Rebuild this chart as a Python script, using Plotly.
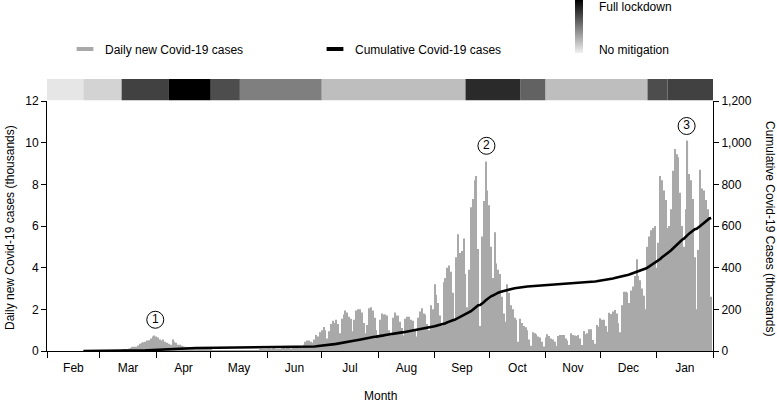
import numpy as np
import pandas as pd
import plotly.graph_objects as go

# ---------------- data (thousands of cases per day) ----------------
feb_2020 = [0, 0, 0, 0, 0, 0.001, 0.001, 0.001, 0.002]  # from Feb 21
mar_2020 = [0.001, 0.002, 0.003, 0.002, 0.005, 0.004, 0.005, 0.009, 0.011,
            0.019, 0.019, 0.025, 0.035, 0.05, 0.07, 0.1, 0.12, 0.15, 0.2, 0.2,
            0.2, 0.27, 0.35, 0.4, 0.42, 0.45, 0.5, 0.52, 0.6, 0.7, 0.75]
apr_2020 = [0.7, 0.65, 0.55, 0.5, 0.55, 0.45, 0.4, 0.35, 0.3, 0.55,
            0.45, 0.4, 0.3, 0.3, 0.25, 0.22, 0.2, 0.18, 0.17, 0.15,
            0.15, 0.12, 0.12, 0.1, 0.08, 0.08, 0.07, 0.06, 0.06, 0.05]
may_2020 = [0.05, 0.04, 0.03, 0.04, 0.03, 0.02, 0.03, 0.03, 0.02, 0.02,
            0.02, 0.02, 0.02, 0.01, 0.02, 0.02, 0.02, 0.02, 0.02, 0.02,
            0.02, 0.01, 0.01, 0.02, 0.02, 0.02, 0.03, 0.06, 0.08, 0.09, 0.1]
jun_2020 = [0.1, 0.12, 0.1, 0.12, 0.13, 0.1, 0.08, 0.1, 0.13, 0.15,
            0.12, 0.15, 0.17, 0.12, 0.15, 0.18, 0.2, 0.25, 0.22, 0.15,
            0.3, 0.45, 0.5, 0.5, 0.45, 0.4, 0.55, 0.77, 0.7, 0.9]
jul_2020 = [1.0, 1.15, 1.0, 0.6, 0.95, 1.3, 1.45, 1.35, 1.5, 1.3,
            0.85, 1.55, 1.75, 1.95, 1.85, 1.65, 1.55, 0.95, 1.5, 1.95,
            2.0, 2.0, 1.85, 1.35, 0.85, 1.25, 2.05, 2.1, 1.95, 1.6, 1.0]
aug_2020 = [0.7, 1.5, 1.8, 1.75, 1.75, 1.7, 1.0, 0.75, 1.6, 1.85,
            1.7, 1.7, 1.4, 1.1, 0.75, 1.55, 1.65, 1.65, 1.5, 1.45,
            1.0, 0.7, 1.6, 1.9, 2.05, 1.8, 1.75, 1.3, 1.0, 2.2, 2.0]
sep_2020 = [3.2, 2.7, 2.3, 1.7, 1.2, 3.3, 3.5, 4.0, 4.1, 3.8,
            2.8, 1.5, 4.5, 5.6, 4.7, 4.8, 5.4, 3.7, 2.1, 3.9,
            6.9, 7.3, 8.2, 8.4, 4.9, 1.2, 5.5, 7.2, 9.1, 7.7]
oct_2020 = [7.0, 5.0, 3.5, 5.7, 4.2, 3.9, 3.7, 2.6, 1.8, 1.4,
            3.2, 2.8, 2.2, 2.0, 1.6, 1.5, 0.45, 1.55, 1.35, 1.2,
            1.14, 1.0, 0.55, 0.25, 0.9, 0.85, 0.8, 0.7, 0.65, 0.45, 0.22]
nov_2020 = [0.65, 0.8, 0.72, 0.6, 0.55, 0.45, 0.24, 0.72, 0.77, 0.77,
            0.77, 0.6, 0.5, 0.29, 0.85, 0.77, 0.75, 0.72, 0.77, 0.6,
            0.29, 0.96, 0.8, 0.85, 1.04, 1.04, 0.53, 0.35, 1.25, 1.17]
dec_2020 = [1.57, 1.5, 1.5, 1.2, 0.93, 1.84, 1.78, 1.9, 1.97, 1.8,
            1.33, 0.9, 2.2, 2.85, 2.85, 2.8, 2.3, 2.9, 3.1, 3.6,
            4.4, 3.6, 3.4, 3.0, 2.65, 2.0, 5.0, 5.5, 5.8, 5.9, 6.0]
jan_2021 = [4.0, 5.2, 8.4, 8.2, 7.7, 7.25, 5.9, 6.0, 6.8, 8.65,
            9.7, 9.45, 9.3, 7.6, 6.0, 5.0, 6.8, 10.1, 8.5, 8.2,
            7.3, 4.5, 2.0, 4.85, 8.7, 7.8, 7.7, 7.25, 6.8, 6.3, 2.6]

first_day = "2020-02-21"
last_day = "2021-01-31"

# mitigation level periods (0 = no mitigation, 1 = full lockdown)
mit_start = ["2020-02-01", "2020-02-21", "2020-03-13", "2020-04-08", "2020-05-01",
             "2020-05-17", "2020-07-01", "2020-09-18", "2020-10-18", "2020-11-01",
             "2020-12-27", "2021-01-07"]
mit_end_last = "2021-02-01"
mit_level = [0.04, 0.12, 0.73, 1.0, 0.68, 0.47, 0.21, 0.825, 0.59, 0.21, 0.68, 0.73]

peak_labels = ["1", "2", "3"]
peak_dates = ["2020-03-31", "2020-09-29", "2021-01-17"]
peak_label_y = [1.5, 9.85, 10.8]

# ---------------- build ----------------
daily = (feb_2020 + mar_2020 + apr_2020 + may_2020 + jun_2020 + jul_2020 +
         aug_2020 + sep_2020 + oct_2020 + nov_2020 + dec_2020 + jan_2021)
dates = pd.date_range(first_day, last_day, freq="D")
assert len(dates) == len(daily), (len(dates), len(daily))
cumulative = np.cumsum(daily)

starts = pd.to_datetime(mit_start)
ends = pd.to_datetime(mit_start[1:] + [mit_end_last])
mids = starts + (ends - starts) / 2
widths_ms = [(e - s).total_seconds() * 1000 for s, e in zip(starts, ends)]

FONT = "Liberation Sans, Arial, sans-serif"
BAR_GREY = "#a9a9a9"

fig = go.Figure()

fig.add_trace(go.Bar(
    x=dates, y=daily, marker=dict(color=BAR_GREY, line=dict(width=0)),
    showlegend=False, hoverinfo="x+y"))

fig.add_trace(go.Scatter(
    x=dates, y=cumulative, yaxis="y2", mode="lines",
    line=dict(color="black", width=2.6), showlegend=False))

# legend-only entries
fig.add_trace(go.Scatter(
    x=[None], y=[None], mode="markers", name="Daily new Covid-19 cases",
    marker=dict(symbol="line-ew", size=12, line=dict(width=4, color=BAR_GREY))))
fig.add_trace(go.Scatter(
    x=[None], y=[None], mode="markers", name="Cumulative Covid-19 cases",
    marker=dict(symbol="line-ew", size=12, line=dict(width=4, color="black"))))

# mitigation strip
plot_h = 272
fig.add_trace(go.Bar(
    x=mids, y=[1] * len(mids), width=widths_ms, yaxis="y3",
    marker=dict(color=mit_level, cmin=0, cmax=1,
                colorscale=[[0, "#f0f0f0"], [1, "#000000"]],
                line=dict(width=0), showscale=True,
                colorbar=dict(
                    x=(575 - 47) / 666, xanchor="left", xpad=0,
                    y=1 + 79 / plot_h, yanchor="top", ypad=0,
                    len=53, lenmode="pixels", thickness=8, thicknessmode="pixels",
                    outlinewidth=0, tickvals=[0.06, 0.87],
                    ticktext=["No mitigation", "Full lockdown"],
                    ticklabeloverflow="allow",
                    ticks="outside", ticklen=14, tickcolor="rgba(0,0,0,0)",
                    tickfont=dict(family=FONT, size=12, color="black"))),
    showlegend=False, hoverinfo="skip"))

# circled peak numbers
fig.add_trace(go.Scatter(
    x=pd.to_datetime(peak_dates) + pd.Timedelta(hours=12), y=peak_label_y,
    mode="markers+text", text=peak_labels, textposition="middle center",
    textfont=dict(family=FONT, size=12, color="black"),
    marker=dict(symbol="circle-open", size=17, color="black", line=dict(width=1)),
    showlegend=False, hoverinfo="skip"))

main_top = 250 / plot_h
fig.update_layout(
    width=777, height=404,
    margin=dict(l=47, r=64, t=79, b=53, autoexpand=False),
    plot_bgcolor="white", paper_bgcolor="white",
    font=dict(family=FONT, size=12, color="black"),
    barmode="overlay", bargap=0.4,
    legend=dict(orientation="h", x=(65 - 47) / 666, xanchor="left",
                y=(351 - 49) / plot_h, yanchor="middle",
                entrywidth=205, entrywidthmode="pixels",
                font=dict(family=FONT, size=12), bgcolor="rgba(0,0,0,0)"),
    xaxis=dict(type="date", range=["2020-02-01", "2021-02-01"],
               tick0="2020-02-01", dtick="M1", tickformat="%b",
               ticklabelmode="period", ticks="outside", ticklen=6,
               tickcolor="black", showline=True, linecolor="black",
               showgrid=False, zeroline=False),
    yaxis=dict(domain=[0, main_top], range=[0, 12], dtick=2, ticks="outside",
               ticklen=5, tickcolor="black", showline=True, linecolor="black",
               showgrid=False, zeroline=False),
    yaxis2=dict(overlaying="y", side="right", range=[0, 1200], dtick=200,
                tickformat=",", ticks="outside", ticklen=5, tickcolor="black",
                showline=True, linecolor="black", showgrid=False, zeroline=False,
                anchor="x"),
    yaxis3=dict(domain=[(351 - 100.5) / plot_h, 1], range=[0, 1], visible=False,
                anchor="x", fixedrange=True),
    annotations=[
        dict(text="Daily new Covid-19 cases (thousands)", xref="paper", yref="paper",
             x=(10 - 47) / 666, y=(351 - 228) / plot_h, textangle=-90,
             showarrow=False, xanchor="center", yanchor="middle",
             font=dict(family=FONT, size=12)),
        dict(text="Cumulative Covid-19 Cases (thousands)", xref="paper", yref="paper",
             x=(770 - 47) / 666, y=(351 - 228) / plot_h, textangle=90,
             showarrow=False, xanchor="center", yanchor="middle",
             font=dict(family=FONT, size=12)),
        dict(text="Month", xref="paper", yref="paper",
             x=0.5, y=(351 - 396) / plot_h, showarrow=False,
             xanchor="center", yanchor="middle", font=dict(family=FONT, size=12)),
    ],
)

# remove the browser's default page margin so the figure sits at the top-left corner
fig.write_html("out.html",
               config={"displayModeBar": False},
               post_script="document.body.style.margin='0';document.body.style.padding='0';")
